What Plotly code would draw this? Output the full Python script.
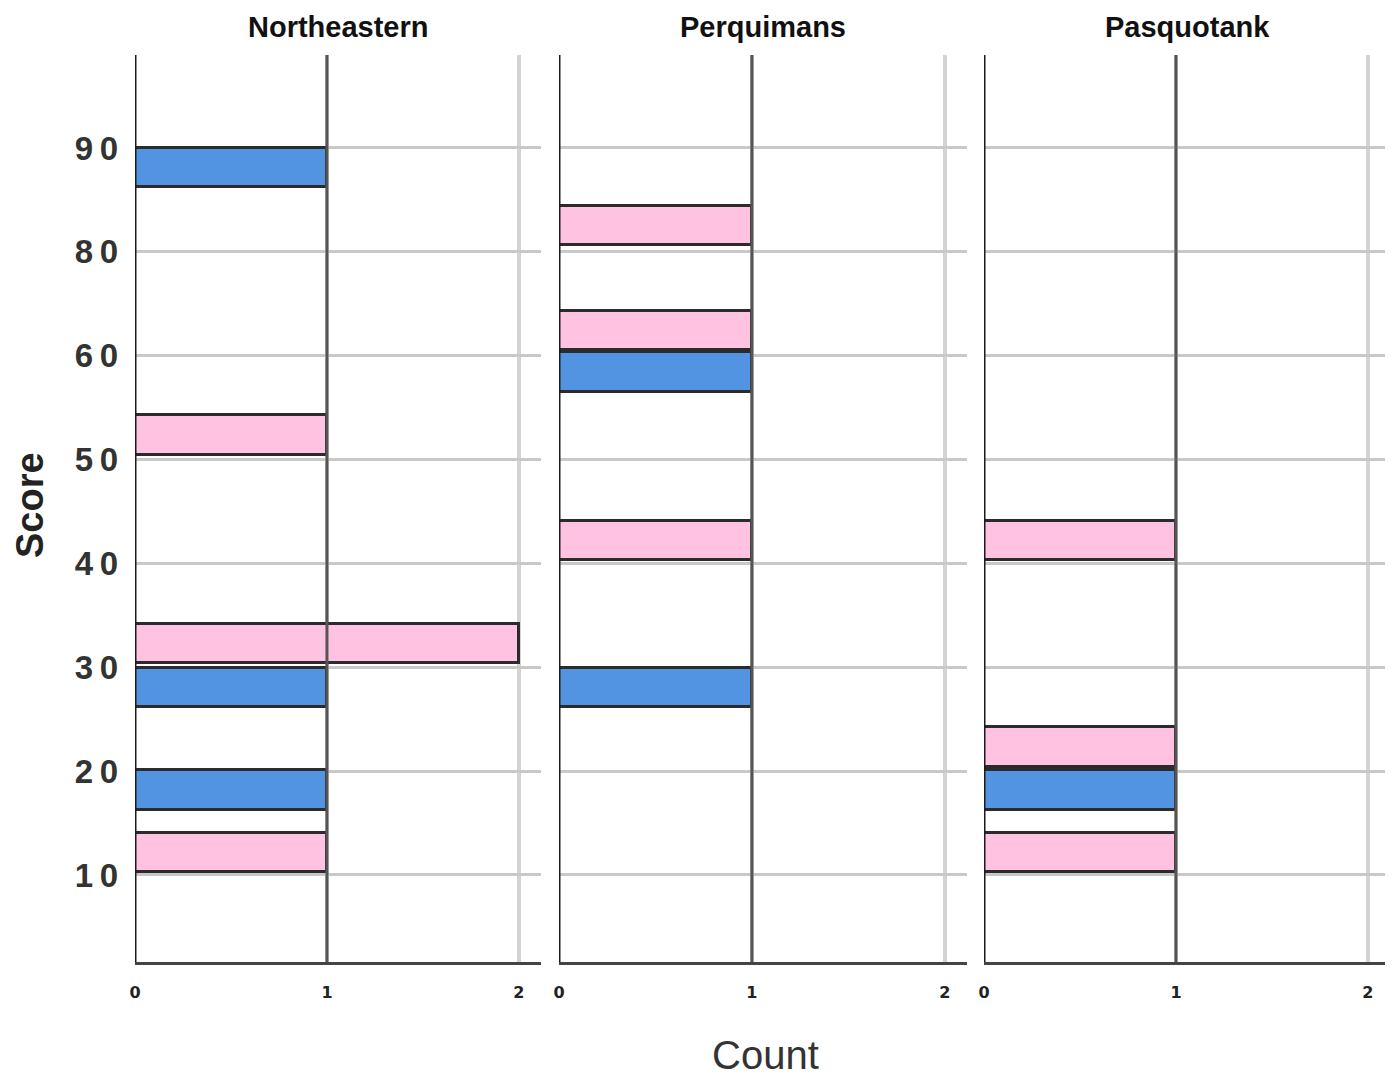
import plotly.graph_objects as go

# ---- data ----
panels = ["Northeastern", "Perquimans", "Pasquotank"]

# y positions (axis units) of bar centres and counts, per panel and colour group
ne_blue_y = [78.1, 28.05, 18.2]
ne_blue_x = [1, 1, 1]
ne_pink_y = [52.35, 32.3, 12.15]
ne_pink_x = [1, 2, 1]

pq_blue_y = [58.45, 28.05]
pq_blue_x = [1, 1]
pq_pink_y = [72.55, 62.4, 42.2]
pq_pink_x = [1, 1, 1]

pa_blue_y = [18.2]
pa_blue_x = [1]
pa_pink_y = [42.2, 22.3, 12.15]
pa_pink_x = [1, 1, 1]

bin_width = 3.8

y_tick_vals = [10, 20, 30, 40, 50, 60, 70, 80]
y_tick_text = ["1\u20090", "2\u20090", "3\u20090", "4\u20090", "5\u20090", "6\u20090", "8\u20090", "9\u20090"]
x_tick_vals = [0, 1, 2]
x_tick_text = ["0", "1", "2"]

BLUE = "#5294E2"
PINK = "#FFC2E0"
EDGE = "#2b2b2b"

fig = go.Figure()

series = [
    (ne_blue_y, ne_blue_x, ne_pink_y, ne_pink_x, "x", "y"),
    (pq_blue_y, pq_blue_x, pq_pink_y, pq_pink_x, "x2", "y"),
    (pa_blue_y, pa_blue_x, pa_pink_y, pa_pink_x, "x3", "y"),
]
for by, bx, py, px, xa, ya in series:
    fig.add_trace(go.Bar(y=by, x=bx, orientation="h", width=bin_width,
                         marker=dict(color=BLUE, line=dict(color=EDGE, width=3)),
                         xaxis=xa, yaxis=ya, showlegend=False))
    fig.add_trace(go.Bar(y=py, x=px, orientation="h", width=bin_width,
                         marker=dict(color=PINK, line=dict(color=EDGE, width=3)),
                         xaxis=xa, yaxis=ya, showlegend=False))

# page body has an 8px margin; figure placed at (8, 8)
OFF = 8
W, H = 1393 - OFF, 1081 - OFF
ml, mr, mt = 135 - OFF, 3, 55 - OFF
mb = H - (962 - OFF)
pw = W - ml - mr
ph = H - mt - mb
domains = [
    [0.0, (541 - 135) / pw],
    [(559 - 135) / pw, (967 - 135) / pw],
    [(984 - 135) / pw, 1.0],
]


def px_x(x):
    return (x - OFF - ml) / pw


def px_y(y):
    return (H - mb - (y - OFF)) / ph


xaxis_common = dict(
    range=[0, 2.115],
    tickmode="array", tickvals=x_tick_vals, ticktext=x_tick_text,
    showgrid=True, gridcolor="#d3d3d3", gridwidth=4,
    zeroline=False,
    showline=True, linecolor="#444444", linewidth=3,
    ticks="", ticklabelstandoff=14, automargin=False,
    tickfont=dict(family="DejaVu Sans", size=16, color="#222222", weight="bold"),
    fixedrange=True,
)

layout = dict(
    width=W, height=H,
    margin=dict(l=ml, r=mr, t=mt, b=mb, autoexpand=False),
    paper_bgcolor="white", plot_bgcolor="white",
    barmode="overlay", bargap=0,
    showlegend=False,
)
for i, dom in enumerate(domains):
    key = "xaxis" if i == 0 else f"xaxis{i+1}"
    layout[key] = dict(xaxis_common, domain=dom, anchor="y")

layout["yaxis"] = dict(
    range=[1.62, 88.95],
    tickmode="array", tickvals=y_tick_vals, ticktext=y_tick_text,
    showgrid=True, gridcolor="#c8c8c8", gridwidth=3,
    zeroline=False, showline=False,
    ticks="", ticklabelstandoff=16, automargin=False,
    tickfont=dict(family="Liberation Sans, Arial", size=33,
                  color="#333333", weight="bold"),
    fixedrange=True,
)
fig.update_layout(**layout)

# vertical axis lines at x=0 and dark reference line at x=1 in each panel
shapes = []
for xa in ["x", "x2", "x3"]:
    shapes.append(dict(type="line", xref=xa, yref="y domain", x0=0, x1=0, y0=0, y1=1,
                       line=dict(color="#1a1a1a", width=3), layer="above"))
    shapes.append(dict(type="line", xref=xa, yref="y domain", x0=1, x1=1, y0=0, y1=1,
                       line=dict(color="#555555", width=3), layer="above"))
fig.update_layout(shapes=shapes)

annotations = []
for i, name in enumerate(panels):
    dom = domains[i]
    annotations.append(dict(
        text=name, x=(dom[0] + dom[1]) / 2, xref="paper", xanchor="center",
        y=px_y(27), yref="paper", yanchor="middle", showarrow=False,
        font=dict(family="Liberation Sans, Arial", size=29, color="#111111", weight="bold"),
    ))
annotations.append(dict(
    text="Count", x=px_x(765), xref="paper", xanchor="center",
    y=px_y(1055), yref="paper", yanchor="middle", showarrow=False,
    font=dict(family="Liberation Sans, Arial", size=40, color="#333333"),
))
annotations.append(dict(
    text="Score", textangle=-90, x=px_x(30), xref="paper", xanchor="center",
    y=px_y(505), yref="paper", yanchor="middle", showarrow=False,
    font=dict(family="Liberation Sans, Arial", size=38, color="#222222", weight="bold"),
))
fig.update_layout(annotations=annotations)

fig.write_html("out.html")
